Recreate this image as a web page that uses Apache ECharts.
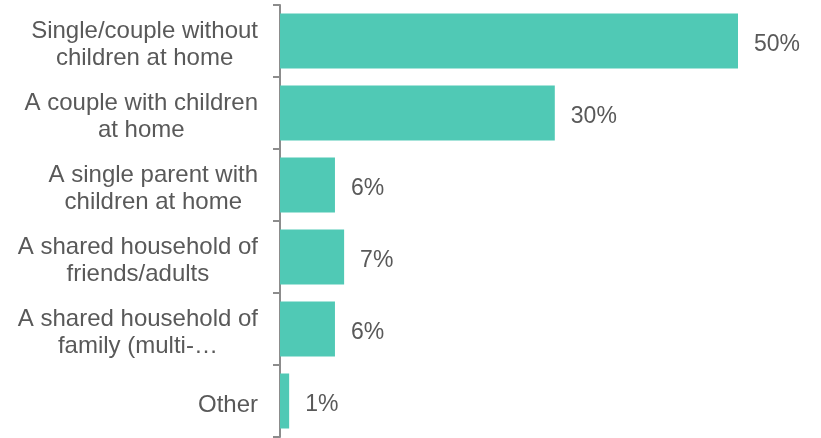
<!DOCTYPE html>
<html>
<head>
<meta charset="utf-8">
<script src="https://cdn.jsdelivr.net/npm/echarts@6/dist/echarts.min.js"></script>
<style>
  html, body { margin: 0; padding: 0; background: #fff; }
  #chart { width: 821px; height: 438px; }
</style>
</head>
<body>
<div id="chart"></div>
<script>
// Household types (top to bottom) and share of respondents in each
const categories = [
  'Single/couple without\nchildren at home',
  'A couple with children\nat home',
  'A single parent with\nchildren at home',
  'A shared household of\nfriends/adults',
  'A shared household of\nfamily (multi-…',
  'Other'
];
const shares = [50, 30, 6, 7, 6, 1];

const textColor = '#595959';
const axisColor = '#8c8c8c';
const barColor = '#50C9B5';
const fontFamily = "'Liberation Sans', Arial, sans-serif";

const chart = echarts.init(document.getElementById('chart'), null, { renderer: 'canvas' });

chart.setOption({
  animation: false,
  backgroundColor: '#ffffff',
  grid: { left: 280, right: 83, top: 5, bottom: 1, containLabel: false },
  xAxis: {
    type: 'value',
    min: 0,
    max: 50,
    show: false,
    splitLine: { show: false }
  },
  yAxis: {
    type: 'category',
    inverse: true,
    data: categories,
    axisLine: { show: true, lineStyle: { color: axisColor, width: 2 } },
    axisTick: { show: true, length: 7, lineStyle: { color: axisColor, width: 2 } },
    axisLabel: {
      margin: 22,
      align: 'right',
      padding: [8, 0, 0, 0],
      color: textColor,
      fontFamily: fontFamily,
      fontSize: 24,
      lineHeight: 27,
      // each line is centred within the label block
      formatter: function (value) {
        return value.split('\n').map(function (line) { return '{c|' + line + '}'; }).join('\n');
      },
      rich: {
        c: {
          align: 'center',
          color: textColor,
          fontFamily: fontFamily,
          fontSize: 24,
          lineHeight: 27
        }
      }
    },
    splitLine: { show: false }
  },
  series: [{
    type: 'bar',
    data: shares,
    barCategoryGap: '23.6%',
    itemStyle: { color: barColor },
    label: {
      show: true,
      position: 'right',
      distance: 16,
      offset: [0, 4],
      formatter: '{c}%',
      color: textColor,
      fontFamily: fontFamily,
      fontSize: 23
    }
  }]
});
</script>
</body>
</html>
